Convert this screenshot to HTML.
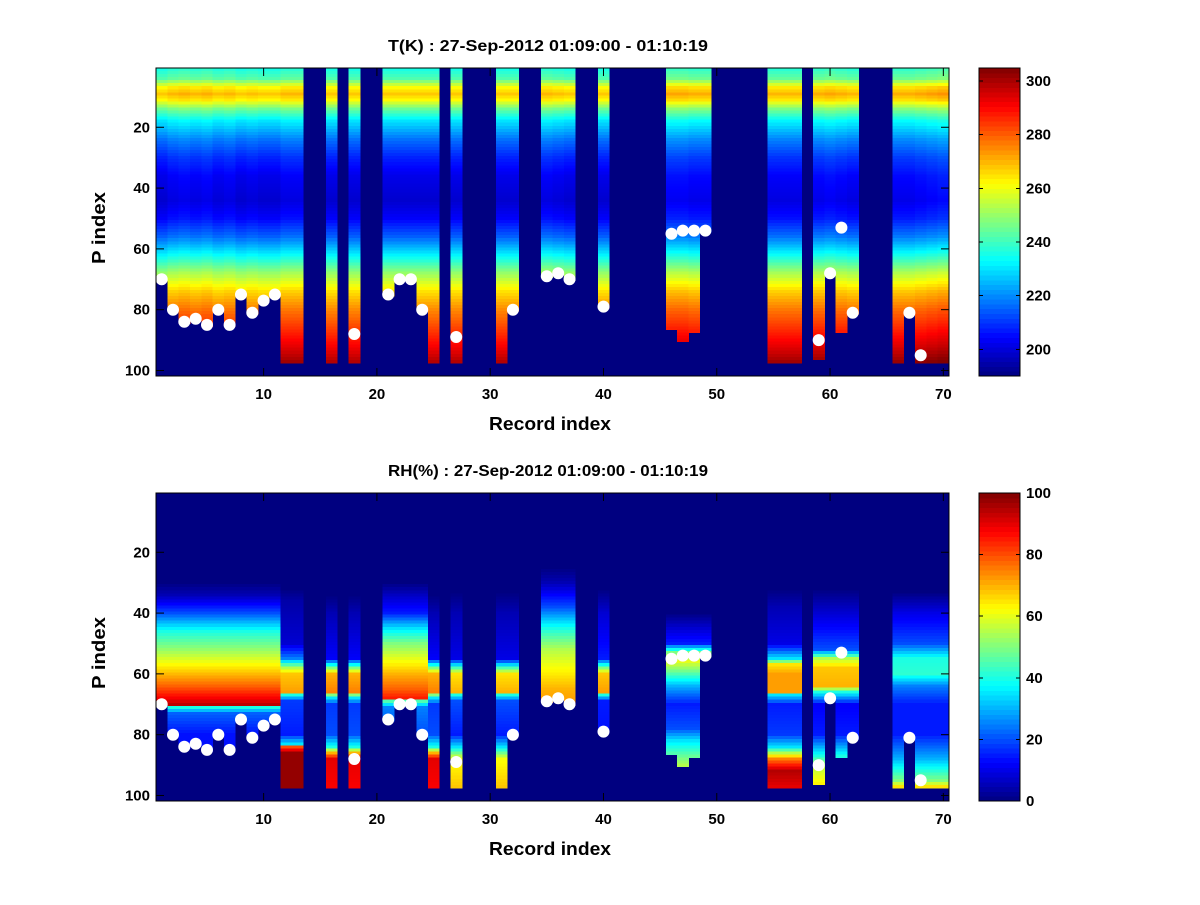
<!DOCTYPE html>
<html><head><meta charset="utf-8"><style>
body{margin:0;background:#fff;}
svg text{font-family:"Liberation Sans",Arial,sans-serif;font-weight:bold;fill:#000;}
</style></head><body>
<svg id="fig" width="1200" height="900" viewBox="0 0 1200 900" xmlns="http://www.w3.org/2000/svg">
<rect width="1200" height="900" fill="#fff"/>
</svg>
<script>
// ---------- data ----------
const recs   = [1,2,3,4,5,6,7,8,9,10,11,12,13,16,18,21,22,23,24,25,27,31,32,35,36,37,40,46,47,48,49,55,56,57,59,60,61,62,66,67,68,69,70];
const ends   = [70,80,84,83,85,80,85,75,81,77,75,97,97,97,97,75,70,70,80,97,97,97,80,69,68,70,79,86,90,87,54,97,97,97,96,68,87,81,97,81,97,97,97];
const tOff   = [0,2,3,2,3,1,2,0,1,0,0,2,2,0,0,0,0,0,0,0,0,0,0,2,1,0,0,4,4,3,3,2,2,2,3,4,3,2,3,3,4,5,6];
const rhProf = ["A","A","A","A","A","A","A","A","A","A","A","B","B","C","C","D","D","D","D","C","E","E","E","F","F","F","G","H","H","H","H","I","I","I","J","J","J","J","K","K","K","K","K"];
const dotRecs = [1,2,3,4,5,6,7,8,9,10,11,18,21,22,23,24,27,32,35,36,37,40,46,47,48,49,59,60,61,62,67,68];
const dotP    = [70,80,84,83,85,80,85,75,81,77,75,88,75,70,70,80,89,80,69,68,70,79,55,54,54,54,90,68,53,81,81,95];
const tProfile = [[1,236],[4,242],[7,262],[9,268],[11,262],[14,245],[18,230],[24,217],[30,208],[36,202],[44,199],[50,204],[56,215],[62,232],[68,250],[74,265],[80,275],[86,283],[92,291],[97,299]];
const rhProfiles = {
 A:[[1,0],[30,0],[34,5],[40,20],[46,40],[52,52],[58,65],[64,78],[68,88],[70,94],[71,40],[73,22],[80,14],[97,14]],
 B:[[1,0],[32,0],[36,4],[50,8],[55,25],[58,55],[60,68],[66,72],[67,40],[69,18],[80,15],[83,35],[84,80],[86,98],[97,98]],
 C:[[1,0],[34,0],[40,5],[55,12],[58,50],[60,70],[66,75],[67,50],[68,35],[70,18],[80,20],[84,40],[86,70],[88,90],[97,88]],
 D:[[1,0],[30,0],[35,8],[40,15],[45,35],[50,50],[55,60],[60,70],[65,78],[68,85],[69,45],[71,25],[80,20],[97,20]],
 E:[[1,0],[33,0],[40,5],[55,10],[58,45],[60,65],[66,70],[67,40],[69,20],[80,15],[84,35],[88,62],[97,68]],
 F:[[1,0],[25,0],[30,5],[38,20],[45,40],[52,55],[58,62],[65,70],[69,72],[97,72]],
 G:[[1,0],[32,0],[40,8],[55,15],[58,50],[60,68],[66,72],[67,40],[69,15],[97,12]],
 H:[[1,0],[40,0],[45,8],[50,15],[53,50],[56,60],[60,45],[64,30],[70,15],[78,20],[82,35],[86,45],[90,55],[97,55]],
 I:[[1,0],[32,0],[38,5],[50,10],[55,35],[57,65],[60,72],[66,72],[67,35],[70,15],[80,18],[84,35],[88,75],[92,95],[97,90]],
 J:[[1,0],[32,0],[40,8],[52,20],[55,55],[58,68],[64,70],[66,40],[70,12],[80,15],[87,40],[90,55],[97,65]],
 K:[[1,0],[33,0],[40,10],[50,20],[55,40],[60,42],[64,25],[70,15],[80,15],[88,30],[95,50],[97,65]]
};
const xTicks = [10,20,30,40,50,60,70];
const yTicks = [20,40,60,80,100];
const tTicks = [200,220,240,260,280,300];
const rhTicks = [0,20,40,60,80,100];

// ---------- helpers ----------
const NS="http://www.w3.org/2000/svg";
const svg=document.getElementById('fig');
function mk(tag,attrs,parent){const e=document.createElementNS(NS,tag);for(const k in attrs)e.setAttribute(k,attrs[k]);(parent||svg).appendChild(e);return e;}
function jet(t){t=Math.max(0,Math.min(1,t));
 const r=Math.max(0,Math.min(1,Math.min(4*t-1.5,-4*t+4.5)));
 const g=Math.max(0,Math.min(1,Math.min(4*t-0.5,-4*t+3.5)));
 const b=Math.max(0,Math.min(1,Math.min(4*t+0.5,-4*t+2.5)));
 return `rgb(${Math.round(r*255)},${Math.round(g*255)},${Math.round(b*255)})`;}
function prof(pts,p){if(p<=pts[0][0])return pts[0][1];
 for(let i=1;i<pts.length;i++){if(p<=pts[i][0]){const a=pts[i-1],b=pts[i];return a[1]+(b[1]-a[1])*(p-a[0])/(b[0]-a[0]);}}
 return pts[pts.length-1][1];}
const L=156,R=949,cw=(R-L)/70,rowH=3.04;
function xs(r){return L+(r-1)*cw;}

function panel(name,top,title,valFn,cmin,cmax,cticks){
 const g=mk('g',{});  
 const ys=p=>top+(p-0.5)*rowH;
 const bg=mk('rect',{x:L,y:top,width:R-L,height:308,fill:jet(0)},g);
  
 const hm=mk('g',{'shape-rendering':'crispEdges'},g);
  
 recs.forEach((r,i)=>{for(let p=1;p<=ends[i];p++){
   const v=valFn(i,p);const c=jet((v-cmin)/(cmax-cmin));
   mk('rect',{x:xs(r).toFixed(2),y:(ys(p)-rowH/2).toFixed(2),width:(cw+0.4).toFixed(2),height:(rowH+0.4).toFixed(2),fill:c},hm);
 }});
 dotRecs.forEach((r,i)=>{const d=mk('circle',{cx:(xs(r)+cw/2).toFixed(1),cy:ys(dotP[i]).toFixed(1),r:6,fill:'#fff'},g);
    });
 const fr=mk('rect',{x:L,y:top,width:R-L,height:308,fill:'none',stroke:'#000','stroke-width':1},g);
  
 xTicks.forEach(t=>{const x=xs(t)+cw/2;
   mk('line',{x1:x,x2:x,y1:top+308,y2:top+300,stroke:'#000'},g);
   mk('line',{x1:x,x2:x,y1:top,y2:top+8,stroke:'#000'},g);
   const tx=mk('text',{x:x,y:top+331,'font-size':15,'text-anchor':'middle'},g);tx.textContent=t;
    });
 yTicks.forEach(t=>{const y=ys(t);
   mk('line',{x1:L,x2:L+8,y1:y,y2:y,stroke:'#000'},g);
   mk('line',{x1:R,x2:R-8,y1:y,y2:y,stroke:'#000'},g);
   const tx=mk('text',{x:L-6,y:y+5,'font-size':15,'text-anchor':'end'},g);tx.textContent=t;
    });
 const tt=mk('text',{x:548,y:top-17,'font-size':16,'text-anchor':'middle',textLength:320,lengthAdjust:'spacingAndGlyphs'},g);tt.textContent=title;
  
 const xl=mk('text',{x:550,y:top+362,'font-size':18,'text-anchor':'middle',textLength:122,lengthAdjust:'spacingAndGlyphs'},g);xl.textContent='Record index';
  
 const yl=mk('text',{x:0,y:0,'font-size':18,'text-anchor':'middle',textLength:72,lengthAdjust:'spacingAndGlyphs',transform:`translate(105,${top+160}) rotate(-90)`},g);yl.textContent='P index';
  
 const cb=mk('g',{'shape-rendering':'crispEdges'},g);
  
 const cx0=979,cx1=1020,n=64,h=308/n;
 for(let k=0;k<n;k++){mk('rect',{x:cx0,y:(top+308-(k+1)*h).toFixed(2),width:cx1-cx0,height:(h+0.5).toFixed(2),fill:jet((k+0.5)/n)},cb);}
 mk('rect',{x:cx0,y:top,width:cx1-cx0,height:308,fill:'none',stroke:'#000'},cb);
 cticks.forEach(t=>{const y=top+308-(t-cmin)/(cmax-cmin)*308;
   mk('line',{x1:cx1,x2:cx1-4,y1:y,y2:y,stroke:'#000'},cb);
   mk('line',{x1:cx0,x2:cx0+4,y1:y,y2:y,stroke:'#000'},cb);
   const tx=mk('text',{x:cx1+6,y:y+5,'font-size':15},cb);tx.textContent=t;
    });
}
panel('temperature',68,'T(K) : 27-Sep-2012 01:09:00 - 01:10:19',(i,p)=>prof(tProfile,p)+tOff[i],190.1,304.8,tTicks);
panel('humidity',493,'RH(%) : 27-Sep-2012 01:09:00 - 01:10:19',(i,p)=>prof(rhProfiles[rhProf[i]],p),0,100,rhTicks);
</script>
</body></html>
